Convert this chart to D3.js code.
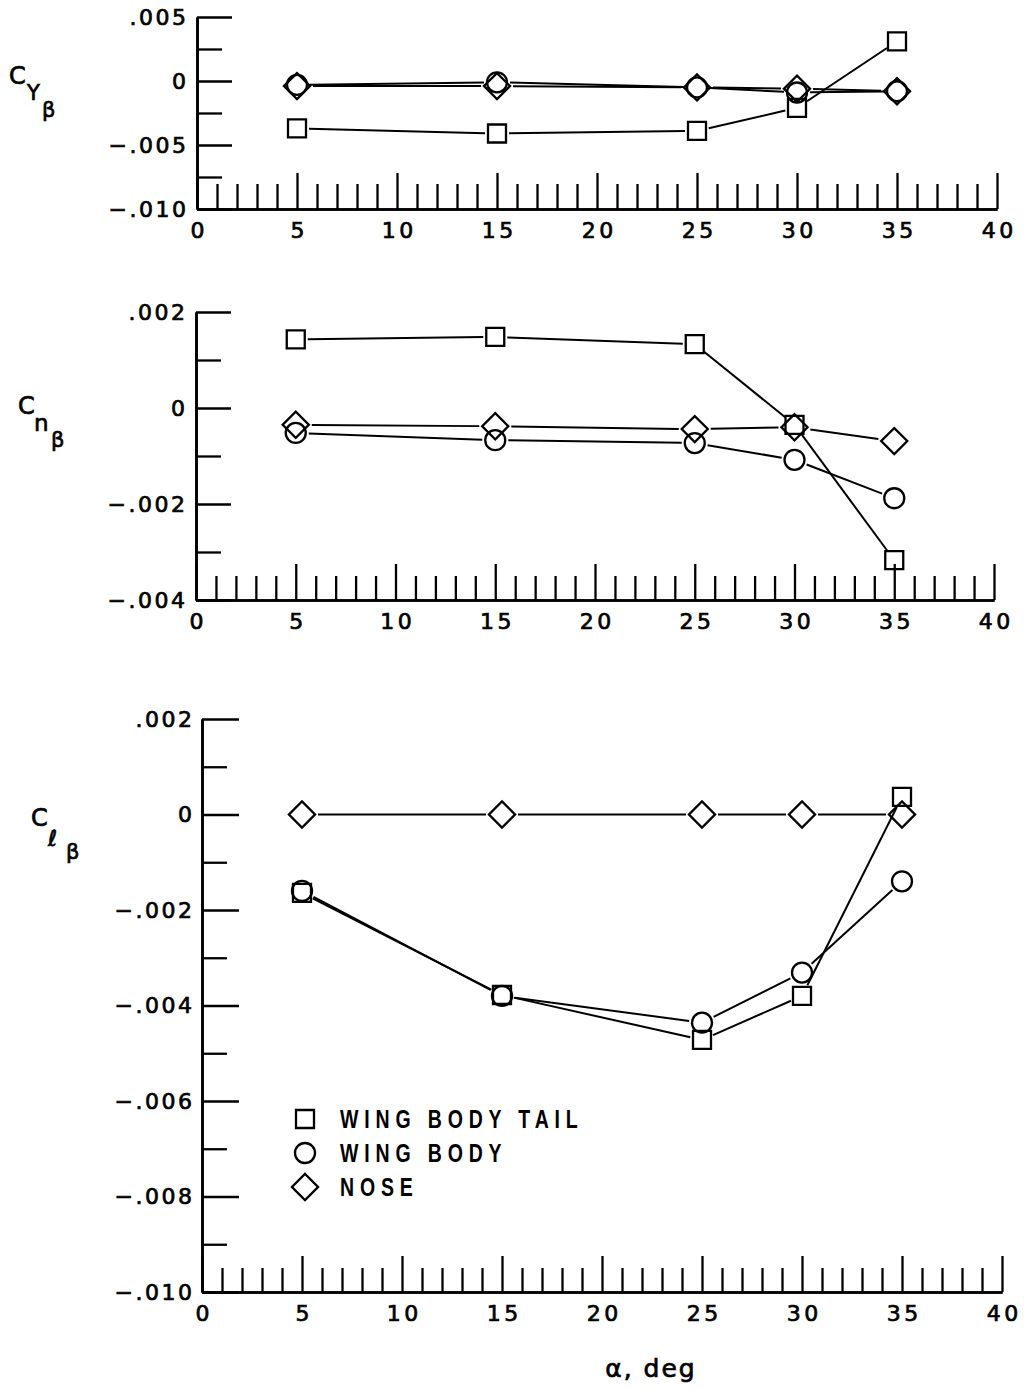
<!DOCTYPE html>
<html><head><meta charset="utf-8">
<script src="https://cdn.jsdelivr.net/npm/d3@7"></script>
<style>body{margin:0;background:#fff}</style>
</head><body>
<script>
// ---------- data ----------
const alpha = [5, 15, 25, 30, 35];
const xMajorTicks = [0, 5, 10, 15, 20, 25, 30, 35, 40];
const xMinorTicks = d3.range(1, 40).filter(v => v % 5 !== 0);

const cyWingBodyTail = [-0.0037, -0.0041, -0.0039, -0.0021, 0.0031];
const cyWingBody     = [-0.0003, -0.0001, -0.0005, -0.0009, -0.0008];
const cyNose         = [-0.0004, -0.0004, -0.0005, -0.0006, -0.0008];
const cyMajorTicks = [0.005, 0, -0.005, -0.010];
const cyTickLabels = [".005", "0", "\u2212.005", "\u2212.010"];
const cyMinorTicks = [0.0025, -0.0025, -0.0075];

const cnWingBodyTail = [0.00143, 0.00148, 0.00133, -0.00035, -0.00317];
const cnWingBody     = [-0.00052, -0.00067, -0.00073, -0.00108, -0.00188];
const cnNose         = [-0.00035, -0.00038, -0.00044, -0.00040, -0.00069];
const cnMajorTicks = [0.002, 0, -0.002, -0.004];
const cnTickLabels = [".002", "0", "\u2212.002", "\u2212.004"];
const cnMinorTicks = [0.001, -0.001, -0.003];

const clWingBodyTail = [-0.00164, -0.00378, -0.00472, -0.00380, 0.00037];
const clWingBody     = [-0.00160, -0.00380, -0.00436, -0.00331, -0.00140];
const clNose         = [0, 0, 0, 0, 0];
const clMajorTicks = [0.002, 0, -0.002, -0.004, -0.006, -0.008, -0.010];
const clTickLabels = [".002", "0", "\u2212.002", "\u2212.004", "\u2212.006", "\u2212.008", "\u2212.010"];
const clMinorTicks = [0.001, -0.001, -0.003, -0.005, -0.007, -0.009];

const legendLabels = ["WING BODY TAIL", "WING BODY", "NOSE"];
const markerTypes = ["square", "circle", "diamond"];

// ---------- drawing ----------
const W = 1027, H = 1389;
const svg = d3.select("body").append("svg").attr("width", W).attr("height", H);
const numFont = "'DejaVu Sans', sans-serif";

function markerPath(type) {
  if (type === "square") return d3.symbol(d3.symbolSquare, 18 * 18)();
  if (type === "circle") return d3.symbol(d3.symbolCircle, Math.PI * 10 * 10)();
  return d3.symbol(d3.symbolSquare, 18.5 * 18.5)();
}
const markerReach = {square: 12, circle: 13, diamond: 16};

function drawMarker(g, type, cx, cy) {
  g.append("path").attr("d", markerPath(type))
    .attr("transform", `translate(${cx},${cy})` + (type === "diamond" ? " rotate(45)" : ""))
    .attr("fill", "none").attr("stroke", "#000").attr("stroke-width", 2.3);
}

function styleText(sel, size, ls) {
  sel.attr("font-family", numFont).attr("font-size", size)
    .attr("letter-spacing", ls).attr("fill", "#000")
    .attr("stroke", "#000").attr("stroke-width", 0.7);
}

function panel(cfg) {
  const g = svg.append("g");
  const x = d3.scaleLinear([0, 40], [cfg.x0, cfg.x1]);
  const y = d3.scaleLinear([cfg.ymin, cfg.ymax], [cfg.yb, cfg.yt]);

  const styleAxis = sel => {
    sel.selectAll(".domain").attr("stroke", "#000").attr("stroke-width", 2.6);
    sel.selectAll(".tick line").attr("stroke", "#000").attr("stroke-width", 2.3);
  };

  g.append("g").attr("transform", `translate(0,${cfg.yb})`)
    .call(d3.axisTop(x).tickValues(xMinorTicks).tickSize(cfg.xMinorLen).tickSizeOuter(0).tickFormat(""))
    .call(styleAxis);
  g.append("g").attr("transform", `translate(0,${cfg.yb})`)
    .call(d3.axisTop(x).tickValues(xMajorTicks).tickSize(cfg.xMajorLen).tickSizeOuter(0).tickFormat(""))
    .call(styleAxis);
  const xl = g.append("g").attr("transform", `translate(0,${cfg.yb})`)
    .call(d3.axisBottom(x).tickValues(xMajorTicks).tickSize(0).tickPadding(cfg.xPad).tickFormat(d3.format("d")));
  xl.select(".domain").remove();
  xl.selectAll("text").call(styleText, 22, 3.5).attr("dx", 1.75);

  g.append("g").attr("transform", `translate(${cfg.x0},0)`)
    .call(d3.axisRight(y).tickValues(cfg.minor).tickSize(cfg.yMinorLen).tickSizeOuter(0).tickFormat(""))
    .call(styleAxis);
  g.append("g").attr("transform", `translate(${cfg.x0},0)`)
    .call(d3.axisRight(y).tickValues(cfg.major).tickSize(cfg.yMajorLen).tickSizeOuter(0).tickFormat(""))
    .call(styleAxis);
  const yl = g.append("g").attr("transform", `translate(${cfg.x0},0)`)
    .call(d3.axisLeft(y).tickValues(cfg.major).tickSize(0).tickPadding(cfg.yPad)
      .tickFormat((d, i) => cfg.labels[i]));
  yl.select(".domain").remove();
  yl.selectAll("text").call(styleText, 22, 2.5).attr("dx", 2.5);

  cfg.series.forEach((vals, si) => {
    const type = markerTypes[si];
    const pts = alpha.map((a, i) => [x(a), y(vals[i])]);
    const r = markerReach[type];
    const line = d3.line();
    for (let i = 0; i < pts.length - 1; i++) {
      const p = pts[i], q = pts[i + 1];
      const dx = q[0] - p[0], dy = q[1] - p[1];
      const L = Math.hypot(dx, dy);
      if (L <= 2 * r) continue;
      const ux = dx / L, uy = dy / L;
      g.append("path")
        .attr("d", line([[p[0] + ux * r, p[1] + uy * r], [q[0] - ux * r, q[1] - uy * r]]))
        .attr("stroke", "#000").attr("stroke-width", 2).attr("fill", "none");
    }
    pts.forEach(p => drawMarker(g, type, p[0], p[1]));
  });

  cfg.ylab.forEach(t => {
    g.append("text").attr("x", t[1]).attr("y", t[2]).text(t[0])
      .call(styleText, t[3], 0);
  });
  return {x, y, g};
}

panel({x0: 197, x1: 997, yt: 17, yb: 209, ymin: -0.010, ymax: 0.005,
  xMinorLen: 25, xMajorLen: 36, yMinorLen: 25, yMajorLen: 35, xPad: 13, yPad: 11,
  major: cyMajorTicks, minor: cyMinorTicks, labels: cyTickLabels,
  series: [cyWingBodyTail, cyWingBody, cyNose],
  ylab: [["C", 9, 84, 24], ["Y", 27, 100, 21], ["\u03B2", 42, 117, 21]]});

panel({x0: 196, x1: 994, yt: 312, yb: 600, ymin: -0.004, ymax: 0.002,
  xMinorLen: 24, xMajorLen: 36, yMinorLen: 25, yMajorLen: 35, xPad: 13, yPad: 11,
  major: cnMajorTicks, minor: cnMinorTicks, labels: cnTickLabels,
  series: [cnWingBodyTail, cnWingBody, cnNose],
  ylab: [["C", 18, 414, 24], ["n", 34, 431, 23], ["\u03B2", 51, 447, 21]]});

panel({x0: 202, x1: 1002, yt: 719, yb: 1292, ymin: -0.010, ymax: 0.002,
  xMinorLen: 24, xMajorLen: 36, yMinorLen: 25, yMajorLen: 37, xPad: 13, yPad: 10,
  major: clMajorTicks, minor: clMinorTicks, labels: clTickLabels,
  series: [clWingBodyTail, clWingBody, clNose],
  ylab: [["C", 31, 826, 24], ["\u2113", 48, 846, 22], ["\u03B2", 66, 859, 21]]});

// legend
const lg = svg.append("g");
legendLabels.forEach((lab, i) => {
  const cy = 1119 + i * 34;
  drawMarker(lg, markerTypes[i], 305, cy);
  lg.append("text").attr("transform", `translate(340,${cy + 9}) scale(0.78,1)`).text(lab)
    .attr("font-family", "'Liberation Sans', sans-serif")
    .attr("font-size", 25).attr("font-weight", "bold").attr("letter-spacing", 7.5).attr("fill", "#000");
});

// x axis title
svg.append("text").attr("x", 651).attr("y", 1377).attr("text-anchor", "middle")
  .call(styleText, 25, 2)
  .text("\u03B1, deg");
</script>
</body></html>
